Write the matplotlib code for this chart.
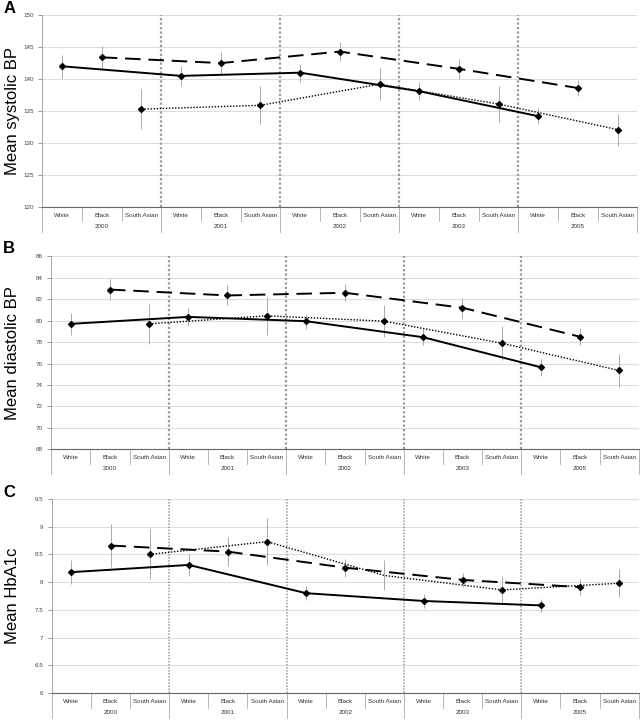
import matplotlib.pyplot as plt
import numpy as np

plt.rcParams['font.family'] = ['Liberation Sans', 'DejaVu Sans']

years = ['2000', '2001', '2002', '2003', '2005']
groups = ['White', 'Black', 'South Asian']

# Panel A - systolic BP
sbp_white = [142.0, 140.5, 141.0, 138.1, 134.2]
sbp_white_err = [1.8, 1.6, 1.4, 1.4, 1.25]
sbp_black = [143.4, 142.5, 144.3, 141.6, 138.6]
sbp_black_err = [1.8, 1.75, 1.5, 1.55, 1.3]
sbp_sa = [135.3, 135.9, 139.2, 136.1, 132.1]
sbp_sa_err = [3.1, 3.0, 2.5, 2.75, 2.5]

# Panel B - diastolic BP
dbp_white = [79.7, 80.35, 79.95, 78.45, 75.65]
dbp_white_err = [1.0, 0.85, 0.7, 0.75, 0.78]
dbp_black = [82.9, 82.35, 82.6, 81.2, 78.5]
dbp_black_err = [0.95, 0.93, 0.8, 0.93, 0.8]
dbp_sa = [79.7, 80.45, 79.95, 77.9, 75.35]
dbp_sa_err = [1.85, 1.8, 1.5, 1.6, 1.5]

# Panel C - HbA1c
hba_white = [8.18, 8.31, 7.80, 7.66, 7.58]
hba_white_err = [0.22, 0.2, 0.13, 0.12, 0.11]
hba_black = [8.66, 8.55, 8.26, 8.04, 7.91]
hba_black_err = [0.38, 0.26, 0.16, 0.13, 0.15]
hba_sa = [8.50, 8.73, 8.12, 7.86, 7.98]
hba_sa_err = [0.45, 0.42, 0.27, 0.24, 0.25]

panels = [
    dict(letter='A', ylabel='Mean systolic BP', ylim=(120, 150), ticks=np.arange(120, 151, 5),
         fmt='{:.0f}', pos=[0.066, 0.7125, 0.93, 0.2665], letter_y=0.988, vlw=1.6,
         data=[(sbp_white, sbp_white_err), (sbp_black, sbp_black_err), (sbp_sa, sbp_sa_err)]),
    dict(letter='B', ylabel='Mean diastolic BP', ylim=(68, 86), ticks=np.arange(68, 87, 2),
         fmt='{:.0f}', pos=[0.08, 0.376, 0.918, 0.268], letter_y=0.655, vlw=1.6,
         data=[(dbp_white, dbp_white_err), (dbp_black, dbp_black_err), (dbp_sa, dbp_sa_err)]),
    dict(letter='C', ylabel='Mean HbA1c', ylim=(6, 9.5), ticks=np.arange(6, 9.51, 0.5),
         fmt='{:g}', pos=[0.081, 0.0375, 0.917, 0.2695], letter_y=0.316, vlw=1.1,
         data=[(hba_white, hba_white_err), (hba_black, hba_black_err), (hba_sa, hba_sa_err)]),
]

styles = [dict(ls='-', lw=1.4), dict(ls=(0, (8, 4)), lw=1.4), dict(ls=(0, (1, 1.2)), lw=1.0)]

fig = plt.figure(figsize=(6.4, 7.2), dpi=100)

for p in panels:
    ax = fig.add_axes(p['pos'])
    ax.set_xlim(0, 15)
    ax.set_ylim(*p['ylim'])
    ax.set_yticks(p['ticks'])
    ax.set_yticklabels([p['fmt'].format(t) for t in p['ticks']], fontsize=4.5, color='#444444')
    ax.tick_params(axis='y', length=3, width=0.6, color='#888888', pad=3)
    ax.set_xticks([])
    ax.grid(axis='y', color='#dddddd', lw=0.8)
    ax.set_axisbelow(True)
    for s in ['top', 'right']:
        ax.spines[s].set_visible(False)
    ax.spines['left'].set_color('#999999')
    ax.spines['left'].set_linewidth(0.6)
    ax.spines['bottom'].set_color('#666666')
    ax.spines['bottom'].set_linewidth(0.8)

    for b in [3, 6, 9, 12]:
        ax.axvline(b, color='#999999', ls=(0, (1, 1)), lw=p['vlw'], zorder=1)

    for gi, (vals, errs) in enumerate(p['data']):
        xs = np.arange(len(years)) * 3 + gi + 0.5
        ax.errorbar(xs, vals, yerr=errs, fmt='none', ecolor='#aaaaaa', elinewidth=0.7, capsize=0, zorder=2)
        markevery = [0, 1, 3, 4] if (p['letter'] == 'C' and gi == 2) else None
        ax.plot(xs, vals, color='black', marker='D', ms=3, markevery=markevery, zorder=3, **styles[gi])

    # two-level category axis below the plot
    trans = ax.get_xaxis_transform()
    for i in range(15):
        ax.text(i + 0.5, -0.045, groups[i % 3], transform=trans, ha='center', va='center',
                fontsize=4.5, color='#333333')
    for yi, y in enumerate(years):
        ax.text(yi * 3 + 1.5, -0.1, y, transform=trans, ha='center', va='center',
                fontsize=4.5, color='#333333')
    for i in range(16):
        bottom = -0.13 if i % 3 == 0 else -0.075
        ax.plot([i, i], [0, bottom], transform=trans, color='#aaaaaa', lw=0.6, clip_on=False)

    yc = p['pos'][1] + p['pos'][3] / 2
    fig.text(0.02, yc, p['ylabel'], rotation=90, fontsize=12, ha='center', va='center')
    fig.text(0.005, p['letter_y'], p['letter'], fontsize=12, fontweight='bold', ha='left', va='center')

fig.savefig('out.png', dpi=100)
